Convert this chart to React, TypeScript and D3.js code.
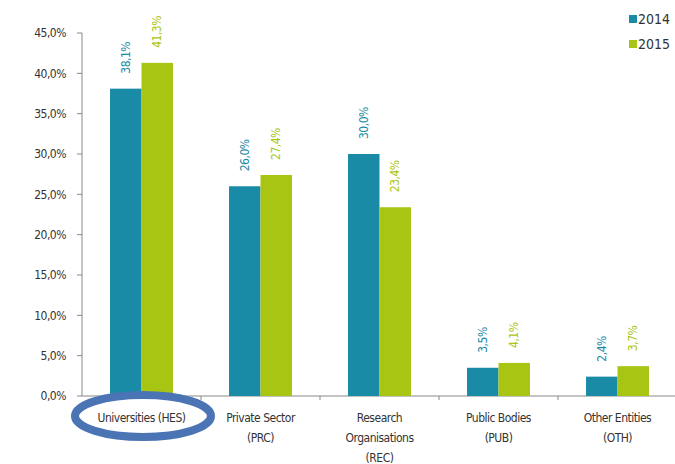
import React from "react";
import * as d3 from "d3";

const categories = ["Universities (HES)", "Private Sector (PRC)", "Research Organisations (REC)", "Public Bodies (PUB)", "Other Entities (OTH)"];
const categoryLines = [["Universities (HES)"], ["Private Sector", "(PRC)"], ["Research", "Organisations", "(REC)"], ["Public Bodies", "(PUB)"], ["Other Entities", "(OTH)"]];
const series = ["2014", "2015"];
const values2014 = [38.1, 26.0, 30.0, 3.5, 2.4];
const values2015 = [41.3, 27.4, 23.4, 4.1, 3.7];
const yTicks = [0, 5, 10, 15, 20, 25, 30, 35, 40, 45];
const colors = ["#1a8ba6", "#a9c514"];

const W = 675, H = 464;
const FONT = "'DejaVu Sans Condensed', 'DejaVu Sans', sans-serif";

const fmt = (v: number) => v.toFixed(1).replace(".", ",") + "%";

export default function App() {
  const x0 = 82, x1 = 677, yTop = 33, yBot = 396;
  const x = d3.scaleBand<string>().domain(categories).range([x0, x1]).paddingInner(0).paddingOuter(0);
  const inner = d3.scaleBand<string>().domain(series).range([0, x.bandwidth()]).paddingOuter(0.89).paddingInner(0);
  const y = d3.scaleLinear().domain([0, 45]).range([yBot, yTop]);
  const seriesValues = [values2014, values2015];

  return (
    <svg width={W} height={H} style={{ position: "absolute", left: 0, top: 0, background: "#fff" }} fontFamily={FONT}>
      {/* y axis */}
      <line x1={x0} x2={x0} y1={yTop} y2={yBot} stroke="#888" strokeWidth={1} />
      {yTicks.map((t) => (
        <g key={t}>
          <line x1={x0 - 5} x2={x0} y1={y(t)} y2={y(t)} stroke="#888" />
          <text x={66} y={y(t)} dy="0.35em" textAnchor="end" fontSize={12} fill="#333" letterSpacing={-0.5}>{fmt(t)}</text>
        </g>
      ))}
      {/* x axis */}
      <line x1={x0} x2={W} y1={yBot} y2={yBot} stroke="#888" />
      {categories.map((c, i) => (
        <line key={"tk" + i} x1={(x(c) as number) + x.bandwidth()} x2={(x(c) as number) + x.bandwidth()} y1={yBot} y2={yBot + 4} stroke="#888" />
      ))}
      {/* bars */}
      {categories.map((c, i) => (
        <g key={c} transform={`translate(${x(c)},0)`}>
          {series.map((s, j) => {
            const v = seriesValues[j][i];
            const bx = inner(s) as number;
            const bw = inner.bandwidth();
            return (
              <g key={s}>
                <rect x={bx} y={y(v)} width={bw} height={yBot - y(v)} fill={colors[j]} />
                <text transform={`translate(${bx + bw / 2},${y(v) - 15}) rotate(-90)`} dy="0.35em" textAnchor="start" fontSize={12} fill={colors[j]} letterSpacing={-0.5}>{fmt(v)}</text>
              </g>
            );
          })}
          {categoryLines[i].map((ln, k) => (
            <text key={k} x={x.bandwidth() / 2} y={418 + k * 20} dy="0.35em" textAnchor="middle" fontSize={12} fill="#333" letterSpacing={-0.5}>{ln}</text>
          ))}
        </g>
      ))}
      {/* legend */}
      {series.map((s, j) => (
        <g key={s} transform={`translate(629,${15 + j * 25})`}>
          <rect x={0} y={0} width={8} height={8} fill={colors[j]} />
          <text x={9} y={4} dy="0.38em" fontSize={14} fill="#333">{s}</text>
        </g>
      ))}
      {/* annotation ellipse */}
      <ellipse cx={143} cy={416} rx={68} ry={21} fill="none" stroke="#4a74b4" strokeWidth={8} />
    </svg>
  );
}
